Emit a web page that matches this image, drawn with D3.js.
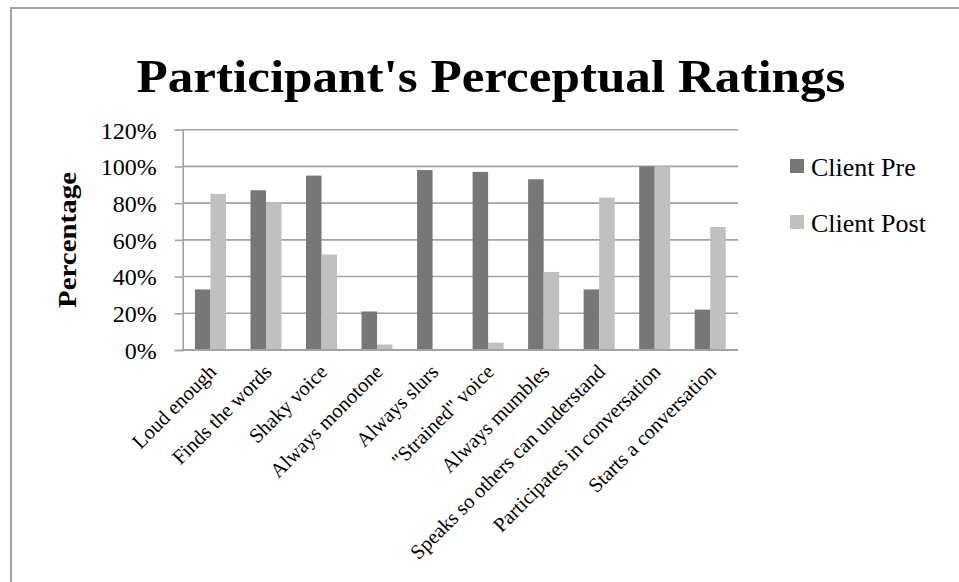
<!DOCTYPE html>
<html>
<head>
<meta charset="utf-8">
<script src="https://cdn.jsdelivr.net/npm/d3@7"></script>
<style>
  body { margin: 0; background: #fff; }
  text { font-family: "Liberation Serif", "DejaVu Serif", serif; fill: #000; }
</style>
</head>
<body>
<svg id="chart" width="959" height="582"></svg>
<script>
// data
var categories = ["Loud enough", "Finds the words", "Shaky voice", "Always monotone", "Always slurs",
  "\"Strained\" voice", "Always mumbles", "Speaks so others can understand",
  "Participates in conversation", "Starts a conversation"];
var clientPre = [0.33, 0.87, 0.95, 0.21, 0.98, 0.97, 0.93, 0.33, 1.00, 0.22];
var clientPost = [0.85, 0.80, 0.52, 0.03, 0, 0.04, 0.425, 0.83, 1.00, 0.67];
var seriesNames = ["Client Pre", "Client Post"];
var yTicks = [0, 0.2, 0.4, 0.6, 0.8, 1.0, 1.2];

var colors = ["#777777", "#c0c0c0"];

var svg = d3.select("#chart");

// outer chart border
svg.append("rect")
  .attr("x", 11).attr("y", 8)
  .attr("width", 960).attr("height", 600)
  .style("fill", "none").style("stroke", "#a3a3a3").style("stroke-width", 2);

var plotLeft = 182.7, plotRight = 738, plotTop = 129.7, plotBottom = 350;

var x = d3.scaleBand().domain(categories).range([plotLeft, plotRight]);
var x1 = d3.scaleBand().domain([0, 1]).range([0, x.bandwidth()]).paddingOuter(0.79);
var y = d3.scaleLinear().domain([0, 1.2]).range([plotBottom, plotTop]);

// gridlines
svg.append("g")
  .selectAll("line")
  .data(yTicks)
  .enter().append("line")
  .attr("x1", plotLeft).attr("x2", plotRight)
  .attr("y1", function(d) { return y(d); })
  .attr("y2", function(d) { return y(d); })
  .style("stroke", "#a3a3a3").style("stroke-width", 1.6);

// bars
var rows = categories.map(function(c, i) { return [clientPre[i], clientPost[i]]; });
var groups = svg.append("g").selectAll("g")
  .data(rows)
  .enter().append("g")
  .attr("transform", function(d, i) { return "translate(" + x(categories[i]) + ",0)"; });

groups.selectAll("rect")
  .data(function(d) { return d; })
  .enter().append("rect")
  .attr("x", function(d, j) { return x1(j); })
  .attr("width", x1.bandwidth())
  .attr("y", function(d) { return y(d); })
  .attr("height", function(d) { return plotBottom - y(d); })
  .style("fill", function(d, j) { return colors[j]; });

// y axis
var yAxis = svg.append("g")
  .attr("transform", "translate(" + plotLeft + ",0)")
  .call(d3.axisLeft(y).tickValues(yTicks).tickSize(8).tickPadding(18)
    .tickFormat(function(d) { return Math.round(d * 100) + "%"; }));
yAxis.select(".domain").style("stroke", "#a3a3a3").style("stroke-width", 1.6);
yAxis.selectAll(".tick line").style("stroke", "#a3a3a3").style("stroke-width", 1.6);
yAxis.selectAll("text").style("font-size", "24px").style("fill", "#000")
  .attr("font-family", null).attr("dy", "0.35em");

// x axis line
svg.append("line")
  .attr("x1", plotLeft).attr("x2", plotRight)
  .attr("y1", plotBottom).attr("y2", plotBottom)
  .style("stroke", "#a3a3a3").style("stroke-width", 2);

// category labels, rotated
svg.append("g").selectAll("text")
  .data(categories)
  .enter().append("text")
  .attr("transform", function(d) {
    return "translate(" + (x(d) + x.bandwidth() / 2 + 7) + "," + (plotBottom + 23) + ") rotate(-45)";
  })
  .attr("text-anchor", "end")
  .style("font-size", "20.5px")
  .text(function(d) { return d; });

// title
svg.append("text")
  .attr("x", 491).attr("y", 92)
  .attr("text-anchor", "middle")
  .attr("textLength", 709).attr("lengthAdjust", "spacingAndGlyphs")
  .style("font-size", "46px").style("font-weight", "bold")
  .text("Participant's Perceptual Ratings");

// y axis title
svg.append("text")
  .attr("transform", "translate(76,240) rotate(-90)")
  .attr("text-anchor", "middle")
  .attr("textLength", 136).attr("lengthAdjust", "spacingAndGlyphs")
  .style("font-size", "26px").style("font-weight", "bold")
  .text("Percentage");

// legend
var legend = svg.append("g").selectAll("g")
  .data(seriesNames)
  .enter().append("g")
  .attr("transform", function(d, i) { return "translate(790," + (159 + i * 56) + ")"; });
legend.append("rect")
  .attr("width", 14).attr("height", 14)
  .style("fill", function(d, i) { return colors[i]; });
legend.append("text")
  .attr("x", 21).attr("y", 17)
  .style("font-size", "26px")
  .text(function(d) { return d; });
</script>
</body>
</html>
